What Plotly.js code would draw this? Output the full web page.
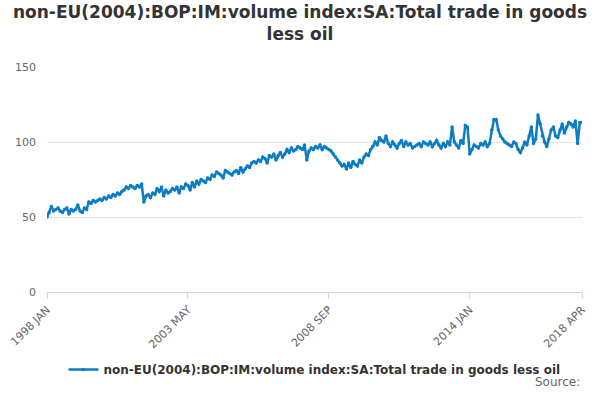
<!DOCTYPE html>
<html>
<head>
<script src="https://cdn.plot.ly/plotly-3.0.1.min.js"></script>
<style>body{margin:0}#chart{width:600px;height:400px}</style>
</head>
<body>
<div id="chart"></div>
<script>
let startYear = 1998;
let monthNames = ["JAN","FEB","MAR","APR","MAY","JUN","JUL","AUG","SEP","OCT","NOV","DEC"];
let values = [
  50,53,57,54,55,56,54,53,55,56,52,55,
  54,55,58,54,53,56,55,60,59,61,60,61,
  62,61,63,62,64,63,65,64,66,65,67,68,
  70,69,71,70,69,71,70,72,60,64,65,63,
  66,65,69,67,70,64,68,66,67,69,68,70,
  66,70,69,72,71,68,73,70,74,72,75,74,
  73,76,75,78,77,80,79,78,76,81,80,79,
  78,80,81,79,83,80,82,84,83,86,87,86,
  88,87,90,89,86,91,90,92,88,91,93,90,
  92,95,93,96,94,95,97,96,95,98,88,94,
  96,95,97,96,98,95,97,96,95,94,92,90,
  88,86,84,85,82,86,83,87,85,84,88,86,
  90,92,91,95,97,100,98,103,101,100,104,99,
  97,100,98,96,99,101,97,100,98,99,96,97,
  98,99,97,100,99,98,100,97,99,101,98,96,
  99,97,100,98,110,100,98,96,101,99,111,110,
  92,95,98,97,96,99,98,100,97,99,108,115,
  115,108,104,102,100,99,98,97,100,99,95,93,
  96,100,98,104,110,99,102,118,112,104,100,97,
  102,108,110,104,103,108,112,106,110,113,112,110,
  114,99,113,113
];
let tickLabels = ["1998 JAN","2003 MAY","2008 SEP","2014 JAN","2018 APR"];
let seriesName = "non-EU(2004):BOP:IM:volume index:SA:Total trade in goods less oil";

let months = [];
for (let i = 0; i < values.length; i++) {
  months.push((startYear + Math.floor(i / 12)) + " " + monthNames[i % 12]);
}

let trace = {
  x: months,
  y: values,
  type: "scatter",
  mode: "lines+markers",
  name: seriesName,
  line: { color: "#0a7dc4", width: 2.5 },
  marker: { color: "#0a7dc4", size: 3.5 },
  showlegend: true,
};

let layout = {
  width: 600,
  height: 400,
  font: { family: "DejaVu Sans, sans-serif", color: "#333" },
  title: { text: "non-EU(2004):BOP:IM:volume index:SA:Total trade in goods<br>less oil", font: { size: 17, color: "#333", weight: 600 }, x: 0.5, y: 0.955 },
  margin: { l: 47, r: 18, t: 67, b: 108 },
  xaxis: {
    type: "category",
    range: [0, values.length - 1],
    automargin: false,
    tickvals: tickLabels,
    ticktext: tickLabels,
    tickangle: -45,
    ticks: "outside",
    ticklen: 6,
    tickcolor: "#ccd6eb",
    showline: true,
    linecolor: "#ccd6eb",
    showgrid: false,
    tickfont: { size: 11, color: "#666" },
  },
  yaxis: {
    range: [0, 150],
    dtick: 50,
    automargin: false,
    gridcolor: "#e6e6e6",
    zeroline: false,
    ticklabelstandoff: 10,
    tickfont: { size: 11, color: "#666" },
  },
  legend: { orientation: "h", x: 0.5, xanchor: "center", y: -0.28, yanchor: "top", font: { size: 12, color: "#333", weight: 600 } },
  annotations: [
    { text: "Source:", xref: "paper", yref: "paper", x: 1.0, y: -0.36, xanchor: "right", yanchor: "top", showarrow: false, font: { size: 12, color: "#666" } },
  ],
  plot_bgcolor: "#fff",
  paper_bgcolor: "#fff",
};

Plotly.newPlot("chart", [trace], layout, { displayModeBar: false });
</script>
</body>
</html>
